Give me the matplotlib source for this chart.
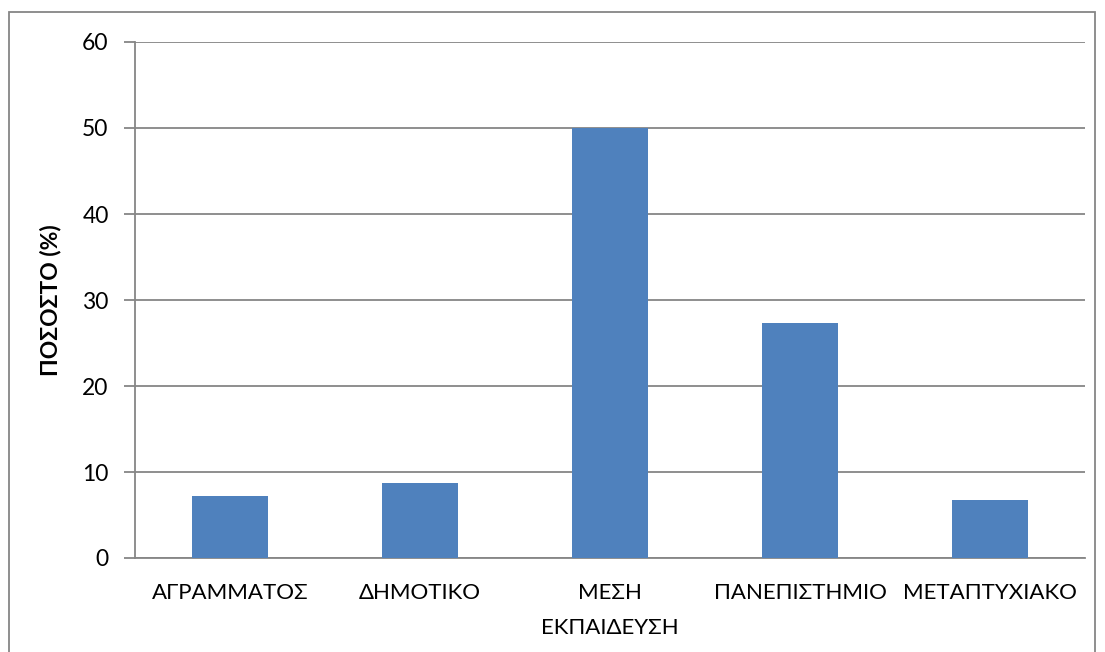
import matplotlib
matplotlib.use('Agg')
import matplotlib.pyplot as plt
from matplotlib.patches import Rectangle

categories = ['ΑΓΡΑΜΜΑΤΟΣ', 'ΔΗΜΟΤΙΚΟ', 'ΜΕΣΗ\nΕΚΠΑΙΔΕΥΣΗ', 'ΠΑΝΕΠΙΣΤΗΜΙΟ', 'ΜΕΤΑΠΤΥΧΙΑΚΟ']
values = [7.2, 8.7, 50.0, 27.3, 6.7]
yticks = [0, 10, 20, 30, 40, 50, 60]

plt.rcParams['font.family'] = ['Lato', 'DejaVu Sans']
grid_col = '#868686'

fig = plt.figure(figsize=(11.05, 6.52), dpi=100)
ax = fig.add_axes([135 / 1105, 1 - 558 / 652, 950 / 1105, 516 / 652])

x = list(range(len(categories)))
ax.bar(x, values, width=0.4, color='#4f81bd', zorder=3)

ax.set_xlim(-0.5, len(categories) - 0.5)
ax.set_ylim(0, 60)
ax.set_yticks(yticks)
ax.set_xticks(x)
ax.set_xticklabels(categories, fontsize=16, linespacing=1.95)
ax.tick_params(axis='y', labelsize=16.5, length=8, color=grid_col, width=1.3, pad=11)
ax.tick_params(axis='x', length=0, pad=18)
ax.yaxis.grid(True, color=grid_col, linewidth=1.3, zorder=0)

for s in ['top', 'right']:
    ax.spines[s].set_visible(False)
ax.spines['left'].set_color(grid_col)
ax.spines['left'].set_linewidth(1.3)
ax.spines['bottom'].set_color(grid_col)
ax.spines['bottom'].set_linewidth(1.3)

ax.set_ylabel('ΠΟΣΟΣΤΟ (%)', fontsize=16.5, fontweight='bold', labelpad=15)

# outer chart frame
fig.patches.append(Rectangle((9 / 1105, -0.05), 1086 / 1105, 1.05 - 12 / 652,
                             transform=fig.transFigure, fill=False,
                             edgecolor=grid_col, linewidth=1.3))

fig.savefig('out.png', dpi=100)
